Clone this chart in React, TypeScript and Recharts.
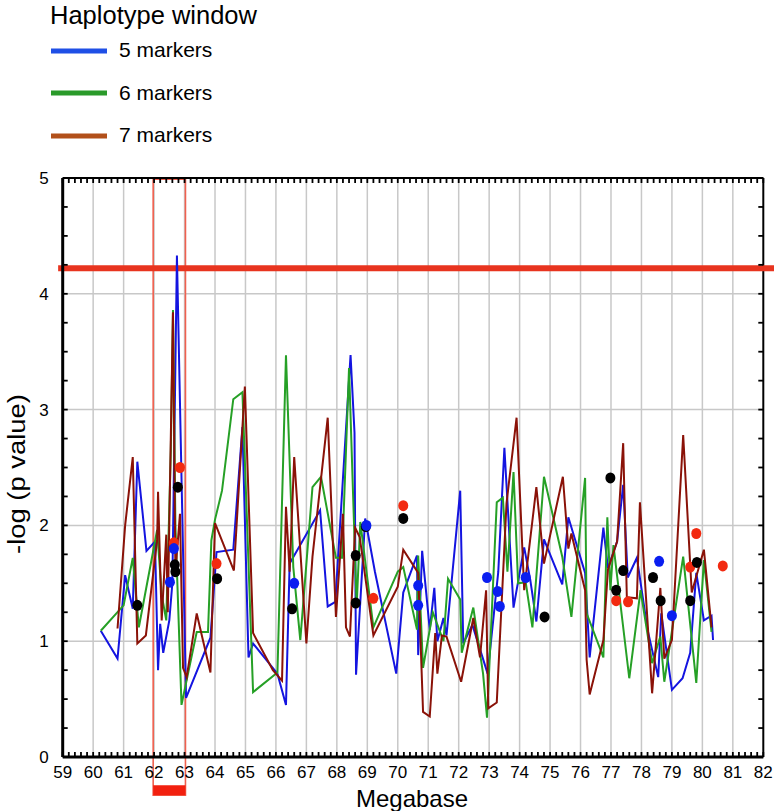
import React from 'react';
import {
  ComposedChart, Line, Scatter, XAxis, YAxis, CartesianGrid, ReferenceLine, ReferenceArea,
} from 'recharts';

// ---- axis frame & tick labels ----
const xDomain: [number, number] = [59, 82];
const yDomain: [number, number] = [0, 5];
const xMajorTicks = [59, 60, 61, 62, 63, 64, 65, 66, 67, 68, 69, 70, 71, 72, 73, 74, 75, 76, 77, 78, 79, 80, 81, 82];
const yMajorTicks = [0, 1, 2, 3, 4, 5];
const xMinorStep = 0.2;
const yMinorStep = 0.25;

// ---- series: [megabase, -log p] ----
const markers5: [number, number][] = [
  [60.25, 1.09], [60.8, 0.85], [61.05, 1.57], [61.3, 1.28], [61.45, 2.55], [61.75, 1.78], [62.03, 1.86],
  [62.13, 0.75], [62.2, 1.15], [62.3, 0.9], [62.5, 1.18], [62.6, 1.5], [62.75, 4.33], [63.05, 0.51],
  [63.85, 1.03], [64.05, 1.77], [64.6, 1.79], [64.9, 2.85], [65.1, 0.86], [65.25, 0.98], [66.05, 0.72],
  [66.33, 0.45], [66.45, 1.67], [67.45, 2.13], [67.7, 1.3], [67.95, 1.34], [68.45, 3.47], [68.58, 2.8],
  [68.63, 0.71], [68.93, 2.06], [69.25, 1.6], [69.95, 0.72], [70.18, 1.42], [70.63, 1.74], [70.67, 0.88],
  [70.8, 1.78], [71.05, 1.1], [71.2, 1.46], [71.3, 1.0], [71.5, 1.2], [71.6, 1.05], [72.05, 2.3],
  [72.15, 0.98], [72.45, 1.14], [72.95, 0.72], [73.3, 1.6], [73.5, 2.67], [73.8, 1.29], [74.15, 1.81],
  [74.35, 1.53], [74.55, 1.17], [74.8, 1.88], [75.4, 1.49], [75.6, 2.07], [76.15, 1.59], [76.3, 0.86],
  [76.75, 1.98], [76.9, 1.63], [77.2, 1.86], [77.4, 2.35], [77.55, 1.55], [77.85, 1.72], [78.2, 1.1],
  [78.55, 0.69], [78.65, 1.24], [79.0, 0.58], [79.35, 0.68], [79.6, 0.9], [79.8, 1.59], [80.05, 1.18],
  [80.3, 1.22], [80.35, 1.01],
];

const markers6: [number, number][] = [
  [60.25, 1.09], [61.0, 1.31], [61.3, 1.72], [61.5, 1.12], [62.1, 1.96], [62.25, 1.4], [62.4, 1.18],
  [62.55, 2.65], [62.62, 3.86], [62.7, 2.0], [62.9, 0.45], [63.4, 1.08], [63.77, 1.08], [63.88, 1.87],
  [64.0, 2.05], [64.23, 2.3], [64.6, 3.09], [64.9, 3.15], [65.25, 0.56], [66.05, 0.73], [66.33, 3.47],
  [66.57, 1.64], [66.8, 1.01], [67.2, 2.33], [67.48, 2.42], [67.97, 1.72], [68.17, 1.72], [68.4, 3.36],
  [68.65, 1.3], [68.77, 2.03], [69.2, 1.12], [70.0, 1.6], [70.18, 1.64], [70.63, 1.1], [70.67, 1.74],
  [70.83, 0.77], [71.15, 1.25], [71.5, 1.0], [71.65, 1.54], [72.05, 1.36], [72.1, 0.9], [72.48, 1.29],
  [72.8, 0.72], [72.93, 0.34], [73.25, 2.2], [73.45, 2.24], [73.6, 1.6], [73.8, 2.46], [73.95, 1.5],
  [74.2, 1.51], [74.42, 1.12], [74.8, 2.42], [75.4, 1.73], [75.7, 1.21], [76.15, 2.41], [76.2, 1.24],
  [76.75, 0.86], [76.88, 2.07], [76.98, 1.44], [77.08, 1.83], [77.6, 0.68], [77.97, 1.44], [78.35, 0.81],
  [78.62, 1.04], [78.75, 0.65], [79.37, 1.73], [79.8, 0.64], [80.05, 1.7], [80.3, 1.08],
];

const markers7: [number, number][] = [
  [60.8, 1.11], [61.05, 2.0], [61.3, 2.59], [61.45, 0.98], [61.73, 1.05], [62.1, 1.87], [62.13, 2.29],
  [62.25, 1.18], [62.4, 1.92], [62.45, 1.25], [62.62, 3.84], [62.7, 1.6], [62.85, 2.1], [62.95, 0.77],
  [63.07, 0.69], [63.4, 1.24], [63.85, 0.73], [64.0, 2.02], [64.62, 1.61], [64.98, 3.2], [65.25, 1.07],
  [65.9, 0.75], [66.2, 0.66], [66.33, 2.16], [66.45, 1.6], [66.6, 2.59], [67.0, 0.98], [67.2, 1.73],
  [67.7, 2.93], [67.97, 1.21], [68.2, 2.1], [68.3, 1.12], [68.43, 1.04], [68.6, 1.98], [68.75, 1.9],
  [69.2, 1.05], [70.0, 1.47], [70.18, 1.79], [70.67, 1.59], [70.83, 0.39], [71.05, 0.35], [71.23, 1.07],
  [71.3, 0.72], [71.45, 1.05], [71.6, 1.04], [72.08, 0.65], [72.48, 1.2], [72.7, 0.86], [72.9, 1.44],
  [72.97, 0.42], [73.25, 0.47], [73.57, 2.19], [73.9, 2.93], [74.15, 1.44], [74.55, 2.33], [74.8, 1.67],
  [75.42, 2.42], [75.6, 1.8], [75.7, 1.93], [76.15, 1.44], [76.2, 0.84], [76.3, 0.54], [76.75, 1.01],
  [76.9, 1.62], [77.2, 1.86], [77.4, 2.71], [77.52, 1.38], [77.85, 1.37], [77.95, 2.2], [78.35, 0.55],
  [78.62, 1.46], [78.75, 0.85], [79.0, 1.01], [79.37, 2.78], [79.65, 1.42], [80.05, 1.79], [80.3, 1.12],
];

// ---- single-marker points ----
const blackDots: [number, number][] = [
  [61.45, 1.31], [62.68, 1.66], [62.7, 1.6], [62.78, 2.33], [64.07, 1.54], [66.53, 1.28], [68.62, 1.74],
  [68.62, 1.33], [68.95, 1.99], [70.18, 2.06], [74.82, 1.21], [76.98, 2.41], [77.17, 1.44], [77.4, 1.61],
  [78.38, 1.55], [78.63, 1.35], [79.6, 1.35], [79.82, 1.68],
];
const blueDots: [number, number][] = [
  [62.52, 1.51], [62.65, 1.8], [66.6, 1.5], [68.97, 2.0], [70.67, 1.48], [70.67, 1.31], [72.93, 1.55],
  [73.28, 1.43], [73.35, 1.3], [74.2, 1.55], [78.58, 1.69], [79.0, 1.22],
];
const redDots: [number, number][] = [
  [62.65, 1.85], [62.85, 2.5], [64.05, 1.67], [69.2, 1.37], [70.18, 2.17], [77.17, 1.35], [77.56, 1.34],
  [79.6, 1.64], [79.8, 1.93], [80.67, 1.65],
];

const thresholdValue = 4.22;
const regionStart = 61.97;
const regionEnd = 63.03;

const toRows = (a: [number, number][]) => a.map(([x, y]) => ({ x, y }));

const xMinorTicks = Array.from({ length: Math.round((xDomain[1] - xDomain[0]) / xMinorStep) + 1 }, (_, i) => +(xDomain[0] + i * xMinorStep).toFixed(2));
const yMinorTicks = Array.from({ length: Math.round((yDomain[1] - yDomain[0]) / yMinorStep) + 1 }, (_, i) => +(yDomain[0] + i * yMinorStep).toFixed(2));
const isMajor = (v: number) => Math.abs(v - Math.round(v)) < 1e-6;

const FONT = '"Liberation Sans", Arial, Helvetica, sans-serif';
const CHART_W = 774;
const CHART_H = 811;
const MARGIN = { top: 178, right: 10.7, bottom: 24, left: 22.7 };
const X_TICK_MARGIN = 9;
const Y_TICK_MARGIN = 14;
const Y_AXIS_W = 40;
const TICK_LEN = 5;

const BLUE = '#1414e0';
const GREEN = '#26a026';
const BROWN = '#8a1208';

const dotShape = (color: string) => (p: any) => (
  <ellipse cx={p.cx} cy={p.cy} rx={5} ry={5.5} fill={color} />
);

// bottom axis tick: inward tick at bottom and top frame edges, label on integers
const XTick = (props: any) => {
  const { x, y, payload } = props;
  const v = payload.value as number;
  const axisY = y - X_TICK_MARGIN;
  const topY = MARGIN.top;
  return (
    <g>
      <line x1={x} x2={x} y1={axisY} y2={axisY - TICK_LEN} stroke="#000" strokeWidth={1.8} />
      <line x1={x} x2={x} y1={topY} y2={topY + TICK_LEN} stroke="#000" strokeWidth={1.8} />
      {isMajor(v) && (
        <text x={x} y={y} dy="0.71em" textAnchor="middle" fontFamily={FONT} fontSize={17} fill="#000">
          {Math.round(v)}
        </text>
      )}
    </g>
  );
};

// left axis tick: inward tick at left and right frame edges, label on integers
const YTick = (props: any) => {
  const { x, y, payload } = props;
  const v = payload.value as number;
  const axisX = x + Y_TICK_MARGIN;
  const rightX = CHART_W - MARGIN.right;
  return (
    <g>
      <line x1={axisX} x2={axisX + TICK_LEN} y1={y} y2={y} stroke="#000" strokeWidth={1.8} />
      <line x1={rightX} x2={rightX - TICK_LEN} y1={y} y2={y} stroke="#000" strokeWidth={1.8} />
      {isMajor(v) && (
        <text x={x} y={y} dy="0.355em" textAnchor="end" fontFamily={FONT} fontSize={17} fill="#000">
          {Math.round(v)}
        </text>
      )}
    </g>
  );
};

export default function App() {
  return (
    <div style={{ position: 'absolute', left: 0, top: 0, width: CHART_W, height: CHART_H, background: '#fff' }}>
      <ComposedChart
        width={CHART_W}
        height={CHART_H}
        margin={MARGIN}
        style={{ position: 'absolute', left: 0, top: 0 }}
      >
        <CartesianGrid
          stroke="#c8c8c8"
          strokeWidth={1.5}
          horizontalValues={[1, 2, 3, 4]}
          verticalValues={xMajorTicks.slice(1, -1)}
        />
        <XAxis
          type="number"
          dataKey="x"
          domain={xDomain}
          ticks={xMinorTicks}
          interval={0}
          allowDataOverflow
          tickSize={0}
          tickMargin={X_TICK_MARGIN}
          height={30}
          axisLine={{ stroke: '#000', strokeWidth: 3 }}
          tickLine={false}
          tick={<XTick />}
        />
        <YAxis
          type="number"
          domain={yDomain}
          ticks={yMinorTicks}
          interval={0}
          allowDataOverflow
          tickSize={0}
          tickMargin={Y_TICK_MARGIN}
          width={Y_AXIS_W}
          axisLine={{ stroke: '#000', strokeWidth: 3 }}
          tickLine={false}
          tick={<YTick />}
        />

        {/* top and right frame edges */}
        <ReferenceLine y={yDomain[1]} stroke="#000" strokeWidth={2} ifOverflow="visible" />
        <ReferenceLine x={xDomain[1]} stroke="#000" strokeWidth={2} ifOverflow="visible" />

        <ReferenceLine
          segment={[{ x: 58.85, y: thresholdValue }, { x: 82.4, y: thresholdValue }]}
          stroke="#e8341f"
          strokeWidth={6}
          ifOverflow="visible"
        />
        <ReferenceArea
          x1={regionStart}
          x2={regionEnd}
          y1={-0.33}
          y2={4.99}
          fill="none"
          fillOpacity={0}
          stroke="#f0604f"
          strokeWidth={1.6}
          ifOverflow="visible"
        />
        <ReferenceArea
          x1={regionStart}
          x2={regionEnd}
          y1={-0.33}
          y2={-0.245}
          fill="#f2200f"
          fillOpacity={1}
          stroke="none"
          ifOverflow="visible"
        />

        <Line data={toRows(markers5)} dataKey="y" type="linear" stroke={BLUE} strokeWidth={2} dot={false} isAnimationActive={false} />
        <Line data={toRows(markers6)} dataKey="y" type="linear" stroke={GREEN} strokeWidth={2} dot={false} isAnimationActive={false} />
        <Line data={toRows(markers7)} dataKey="y" type="linear" stroke={BROWN} strokeWidth={2} dot={false} isAnimationActive={false} />

        <Scatter data={toRows(redDots)} dataKey="y" shape={dotShape('#f22a10')} isAnimationActive={false} />
        <Scatter data={toRows(blackDots)} dataKey="y" shape={dotShape('#000000')} isAnimationActive={false} />
        <Scatter data={toRows(blueDots)} dataKey="y" shape={dotShape('#0a1ef0')} isAnimationActive={false} />
      </ComposedChart>

      <svg width={CHART_W} height={CHART_H} style={{ position: 'absolute', left: 0, top: 0, pointerEvents: 'none' }}>
        <text x={50} y={24} fontFamily={FONT} fontSize={25.5} fill="#000">Haplotype window</text>
        <line x1={51} x2={107} y1={51} y2={51} stroke="#1f4fe6" strokeWidth={5} />
        <line x1={51} x2={107} y1={93} y2={93} stroke="#2a9a2a" strokeWidth={5} />
        <line x1={51} x2={107} y1={136} y2={136} stroke="#b2501a" strokeWidth={5} />
        <text x={119} y={57} fontFamily={FONT} fontSize={21} fill="#000">5 markers</text>
        <text x={119} y={100} fontFamily={FONT} fontSize={21} fill="#000">6 markers</text>
        <text x={119} y={142} fontFamily={FONT} fontSize={21} fill="#000">7 markers</text>
        <text x={412} y={807} textAnchor="middle" fontFamily={FONT} fontSize={24} fill="#000">Megabase</text>
        <text
          x={0}
          y={0}
          transform="translate(25 474) rotate(-90)"
          textAnchor="middle"
          fontFamily={FONT}
          fontSize={23}
          textLength={160}
          lengthAdjust="spacingAndGlyphs"
          fill="#000"
        >
          -log (p value)
        </text>
      </svg>
    </div>
  );
}
